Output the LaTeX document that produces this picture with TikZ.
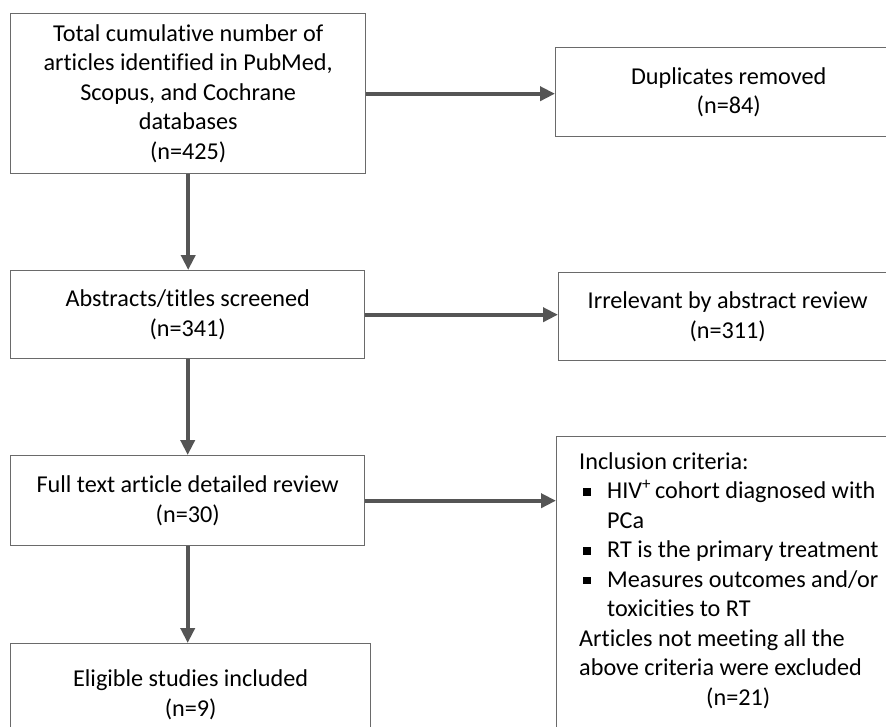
\documentclass[tikz,border=0pt]{standalone}
\usepackage{fontspec}
\setmainfont{Carlito}[Ligatures=NoCommon]
\usetikzlibrary{positioning,arrows.meta}
\definecolor{boxgray}{HTML}{6A6A6A}
\definecolor{arrowgray}{HTML}{555555}
\tikzset{
flowbox/.style={
  draw=boxgray,
  line width=1.4pt,
  rectangle,
  anchor=north west,
  align=center,
  inner sep=0pt,
  font=\fontsize{24.2}{29.5}\selectfont
  },
flowarrow/.style={
  draw=arrowgray,
  line width=4pt,
  -{Triangle[length=15pt,width=14pt]}
  }
}
\newcommand\bul{\makebox[28pt][l]{\hspace{4pt}\rule[3pt]{7.5pt}{7.5pt}}}

\begin{document}
\begin{tikzpicture}[x=1pt, y=-1pt]
\path[use as bounding box, clip] (0,0) rectangle (886,726);
\fill[white] (0,0) rectangle (886,726);

% left column
\node[flowbox, minimum width=355pt, minimum height=160pt]
at (10,13)
(ident)
{Total cumulative number of\\
articles identified in PubMed,\\
Scopus, and Cochrane\\
databases\\
(n=425)};
\node[flowbox, minimum width=354pt, minimum height=88pt]
at (10,270)
(screen)
{Abstracts/titles screened\\
(n=341)};
\node[flowbox, minimum width=354pt, minimum height=90pt]
at (10,455)
(fulltext)
{Full text article detailed review\\
(n=30)};
\node[flowbox, minimum width=360pt, minimum height=102pt]
at (10,643)
(eligible)
{Eligible studies included\\
(n=9)};

% right column
\node[flowbox, minimum width=346pt, minimum height=89pt]
at (555,47)
(dup)
{Duplicates removed\\
(n=84)};
\node[flowbox, minimum width=338pt, minimum height=88pt]
at (558,272)
(irrel)
{Irrelevant by abstract review\\
(n=311)};
\node[flowbox, minimum width=370pt, minimum height=320pt]
at (556,436)
(incl)
{};
\node[anchor=north west, align=left, inner sep=0pt,
  font=\fontsize{24.2}{29.5}\selectfont]
at (579,452)
(crit)
{Inclusion criteria:\\
\bul HIV\textsuperscript{+}\,cohort diagnosed with\\
\hspace*{28pt}PCa\\
\bul RT is the primary treatment\\
\bul Measures outcomes and/or\\
\hspace*{28pt}toxicities to RT\\
Articles not meeting all the\\
above criteria were excluded\\
\makebox[318pt][c]{(n=21)}};

% connectors
\draw[flowarrow] (ident.east) -- (ident.east -| dup.west);
\draw[flowarrow] (ident.south) -- (ident.south |- screen.north);
\draw[flowarrow] (screen.east) -- (screen.east -| irrel.west);
\draw[flowarrow] (screen.south) -- (screen.south |- fulltext.north);
\draw[flowarrow] (fulltext.east) -- (fulltext.east -| incl.west);
\draw[flowarrow] (fulltext.south) -- (fulltext.south |- eligible.north);
\end{tikzpicture}
\end{document}
